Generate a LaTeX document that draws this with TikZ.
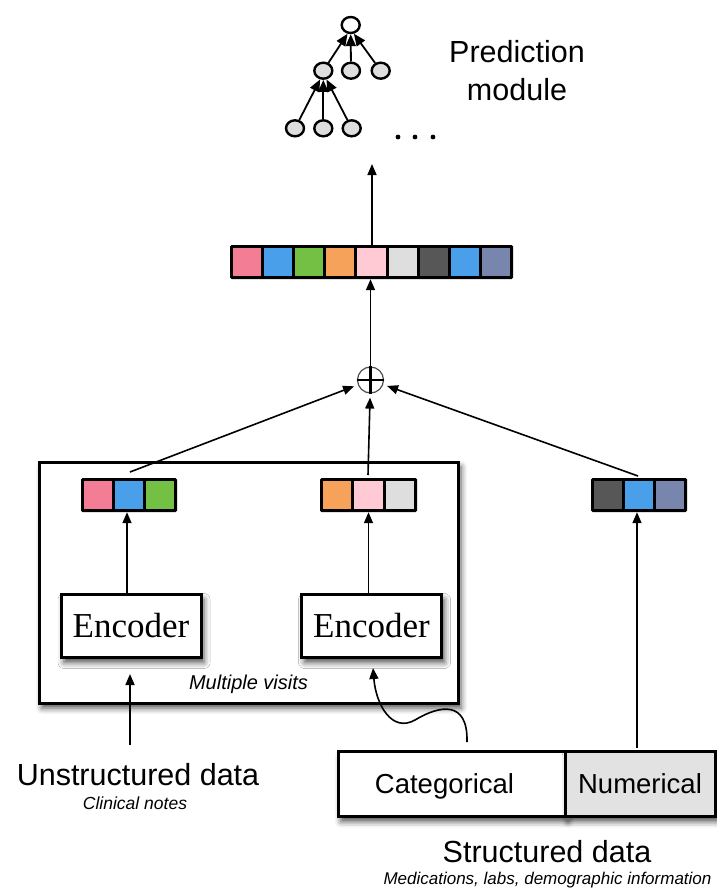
\documentclass[tikz,border=0pt]{standalone}
\usepackage{fontspec}
\setmainfont{Liberation Sans}
\newfontfamily\encfont{Liberation Serif}
\usetikzlibrary{arrows.meta,shapes.geometric,shadows.blur,calc}
\definecolor{cpink}{HTML}{F27D95}
\definecolor{cblue}{HTML}{4A9FEA}
\definecolor{cgreen}{HTML}{74C044}
\definecolor{corange}{HTML}{F7A25A}
\definecolor{clpink}{HTML}{FFCAD4}
\definecolor{clgray}{HTML}{DEDEDE}
\definecolor{cdark}{HTML}{575757}
\definecolor{cslate}{HTML}{7886AE}
\definecolor{cnum}{HTML}{E2E2E2}
\tikzset{
  conn/.style={line width=1.6pt,-{Triangle[length=11pt,width=9pt]}},
  treearr/.style={line width=1.8pt,-{Triangle[length=12pt,width=10pt]}},
  treenode/.style={ellipse,draw,line width=2.4pt,minimum width=18pt,minimum height=16pt,inner sep=0pt},
  boxshadow/.style={blur shadow={shadow xshift=3pt,shadow yshift=-5pt,shadow blur radius=6pt,shadow opacity=70}},
  encbox/.style={draw,line width=3pt,fill=white,minimum width=140pt,minimum height=63pt,inner sep=0pt,boxshadow,font=\encfont\fontsize{35}{40}\selectfont},
  vecframe/.style={fill=black,rounded corners=1.5pt,inner sep=0pt},
  bigtext/.style={font=\fontsize{30.5}{38}\selectfont},
  smallit/.style={font=\itshape\fontsize{17}{21}\selectfont},
}
% draw cells of a vector: #1 node name, #2 number of cells, #3 list of colours
\newcommand{\vcells}[3]{%
  \path (#1.north west) coordinate (vnw) (#1.south east) coordinate (vse);
  \foreach \col [count=\i from 0] in {#3} {
    \path let \p1=(vnw), \p2=(vse), \n1={(\x2-\x1-3pt)/#2} in
      [fill=\col] (\x1+3pt+\i*\n1, \y1-3pt) rectangle (\x1+\i*\n1+\n1, \y2+3pt);
  }%
}
\begin{document}
\begin{tikzpicture}[x=1pt,y=-1pt]
\useasboundingbox (0,0) rectangle (717,891);

% ---------- tree ----------
\node[treenode,fill=white] (t) at (350.7,25) {};
\node[treenode,fill=clgray] (m1) at (323.3,70.7) {};
\node[treenode,fill=clgray] (m2) at (351,70.7) {};
\node[treenode,fill=clgray] (m3) at (380.7,70.7) {};
\node[treenode,fill=clgray] (b1) at (295,128.3) {};
\node[treenode,fill=clgray] (b2) at (323.3,128.3) {};
\node[treenode,fill=clgray] (b3) at (351.7,128.3) {};
\draw[treearr] (m1) -- (t.250);
\draw[treearr] (m2) -- (t.270);
\draw[treearr] (m3) -- (t.290);
\draw[treearr] (b1) -- (m1.250);
\draw[treearr] (b2) -- (m1.270);
\draw[treearr] (b3) -- (m1.290);
\foreach \xx/\nm in {398/d1,415/d2,433/d3} \fill (\xx,137) circle (2.4pt) coordinate (\nm);

\node[bigtext,align=center] (pm) at (517,71) {Prediction\\module};

% ---------- big vector ----------
\node[vecframe,minimum width=283pt,minimum height=34pt] (big) at (371.5,262) {};
\vcells{big}{9}{cpink,cblue,cgreen,corange,clpink,clgray,cdark,cblue,cslate}
\coordinate (treebot) at (372,164);
\draw[conn] (big.north -| treebot) -- (treebot);

% ---------- oplus ----------
\node[circle,draw=black!70,line width=1.2pt,minimum size=26pt,inner sep=0pt] (op) at (370.5,380) {};
\draw[line width=2.6pt] (op.north) -- (op.south) (op.west) -- (op.east);
\draw[conn] (op.north) -- (big.south -| op.north);

% ---------- multiple visits box ----------
\node[draw,line width=3pt,fill=white,boxshadow,minimum width=419pt,minimum height=241pt,inner sep=0pt] (mv) at (248.5,582.5) {};
\node[font=\itshape\fontsize{20}{24}\selectfont] (mvt) at (248.5,684) {Multiple visits};

% small vectors
\node[vecframe,minimum width=96pt,minimum height=34pt] (v1) at (129,495) {};
\vcells{v1}{3}{cpink,cblue,cgreen}
\node[vecframe,minimum width=97pt,minimum height=34pt] (v2) at (368.5,495) {};
\vcells{v2}{3}{corange,clpink,clgray}
\node[vecframe,minimum width=96pt,minimum height=34pt] (v3) at (639,495) {};
\vcells{v3}{3}{cdark,cblue,cslate}

% encoders
\node[encbox] (e1) at (131,626) {Encoder};
\node[encbox] (e2) at (371.5,626) {Encoder};
\draw[conn] (e1.north -| v1.south) ++(-2,0) coordinate (e1t) -- (v1.south -| e1t);
\draw[conn] (e2.north -| v2.south) -- (v2.south);

% into oplus
\coordinate (v1t) at (130,472);
\coordinate (v2t) at (368,475);
\coordinate (v3t) at (638,476);
\draw[conn,shorten >=4pt] (v1t) -- (op);
\draw[conn,shorten >=4pt] (v2t) -- (op);
\draw[conn,shorten >=4pt] (v3t) -- (op);

% ---------- unstructured ----------
\node[bigtext] (ud) at (138,775) {Unstructured data};
\node[font=\itshape\fontsize{17.5}{21}\selectfont] (cn) at (135,803) {Clinical notes};
\coordinate (udtop) at (130,745);
\draw[conn,shorten >=15pt] (udtop) -- (udtop |- e1.south);

% ---------- structured ----------
\node[draw,line width=3pt,fill=white,boxshadow,minimum width=227pt,minimum height=65pt,inner sep=0pt,font=\fontsize{27.5}{32}\selectfont,text depth=0pt] (cat) at (451.5,784) {\hspace*{-14pt}Categorical};
\node[draw,line width=3pt,fill=cnum,boxshadow,minimum width=150pt,minimum height=65pt,inner sep=0pt,font=\fontsize{27.5}{32}\selectfont] (num) at (640,784) {Numerical};
\node[bigtext] (sd) at (547,852) {Structured data};
\node[smallit,anchor=west] (med) at (380,880) {Medications, labs, demographic information};
\coordinate (numtop) at (637,748);
\draw[conn] (numtop) -- (v3.south -| numtop);
\coordinate (cattop) at (467,742);
\draw[conn] (cattop) .. controls (468,700) and (440,705) .. (415,720) .. controls (392,733) and (376,705) .. (373,668);
\end{tikzpicture}
\end{document}
